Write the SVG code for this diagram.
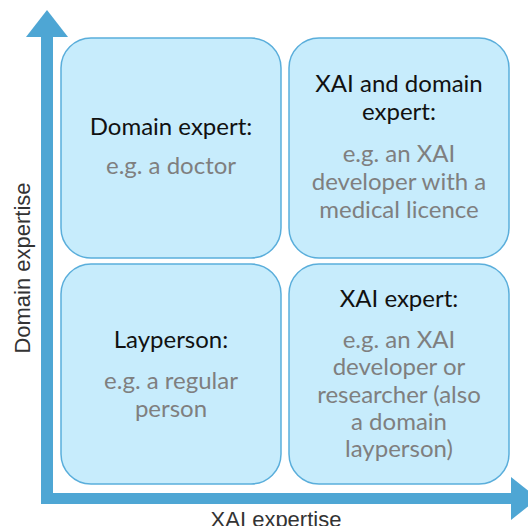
<svg xmlns="http://www.w3.org/2000/svg" width="528" height="526" viewBox="0 0 528 526">
  <style>
    .box { fill: #c7ecfc; stroke: #5aaedb; stroke-width: 1.5; }
    .axis { fill: #4ea6d4; }
    .head { font-family: Lato, "Liberation Sans", sans-serif; font-size: 24px; fill: #111111; text-anchor: middle; }
    .body { font-family: Lato, "Liberation Sans", sans-serif; font-size: 24px; fill: #7f7f7f; text-anchor: middle; }
    .label { font-family: "Liberation Sans", Arial, sans-serif; font-size: 22px; fill: #333333; text-anchor: middle; }
  </style>

  <!-- axes -->
  <g id="connectors">
    <rect class="axis" x="41" y="35" width="12" height="469"/>
    <polygon class="axis" points="47,10 68,37 26,37"/>
    <rect class="axis" x="41" y="493" width="472" height="11"/>
    <polygon class="axis" points="511,477 538,498.5 511,520"/>
  </g>

  <text class="label" transform="translate(30,268) rotate(-90)">Domain expertise</text>
  <text class="label" x="276" y="527">XAI expertise</text>

  <g id="domain-expert">
    <rect class="box" x="61" y="38" width="220" height="220" rx="30"/>
    <text class="head" x="171" y="135">Domain expert:</text>
    <text class="body" x="171" y="174">e.g. a doctor</text>
  </g>

  <g id="xai-and-domain-expert">
    <rect class="box" x="289" y="38" width="220" height="220" rx="30"/>
    <text class="head" x="399" y="92">XAI and domain</text>
    <text class="head" x="399" y="120">expert:</text>
    <text class="body" x="399" y="162">e.g. an XAI</text>
    <text class="body" x="399" y="190">developer with a</text>
    <text class="body" x="399" y="218">medical licence</text>
  </g>

  <g id="layperson">
    <rect class="box" x="61" y="264" width="220" height="220" rx="30"/>
    <text class="head" x="171" y="348">Layperson:</text>
    <text class="body" x="171" y="389">e.g. a regular</text>
    <text class="body" x="171" y="417">person</text>
  </g>

  <g id="xai-expert">
    <rect class="box" x="289" y="264" width="220" height="220" rx="30"/>
    <text class="head" x="399" y="307">XAI expert:</text>
    <text class="body" x="399" y="348">e.g. an XAI</text>
    <text class="body" x="399" y="375">developer or</text>
    <text class="body" x="399" y="402.5">researcher (also</text>
    <text class="body" x="399" y="430">a domain</text>
    <text class="body" x="399" y="457">layperson)</text>
  </g>
</svg>
